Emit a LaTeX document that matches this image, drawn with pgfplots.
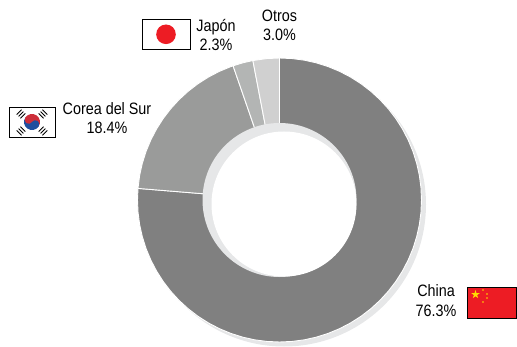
\documentclass[border=0pt]{standalone}
\usepackage{pgfplots}
\pgfplotsset{compat=1.18}
\usepackage{fontspec}
\setmainfont[FakeStretch=0.87]{Liberation Sans}
\usetikzlibrary{shapes.geometric}
\definecolor{cChina}{HTML}{808080}
\definecolor{cKorea}{HTML}{9A9B9A}
\definecolor{cJapan}{HTML}{B3B5B4}
\definecolor{cOtros}{HTML}{D0D0D0}
\definecolor{cShadow}{HTML}{E6E7E8}
\definecolor{fRed}{HTML}{ED1C24}
\definecolor{fYellow}{HTML}{FFDD00}
\definecolor{kBlue}{HTML}{1F4E9E}
\definecolor{kRed}{HTML}{CD2E3A}
\newcommand{\lab}[3]{\node[anchor=base,inner sep=0pt,text=black,font=\fontsize{16.5}{19}\selectfont] at (#1,#2) {#3};}
\newcommand{\tri}[3]{\begin{scope}[shift={(#1,#2)},rotate=#3]
\draw[black,line width=0.9pt] (-3.4,-2.6)--(3.4,-2.6);
\draw[black,line width=0.9pt] (-3.4,0)--(3.4,0);
\draw[black,line width=0.9pt] (-3.4,2.6)--(3.4,2.6);
\end{scope}}
\begin{document}
\begin{tikzpicture}
\path[use as bounding box,clip] (0,0) rectangle (517pt,346pt);
\begin{axis}[
  at={(0,0)},anchor=south west,
  width=517pt,height=346pt,scale only axis,hide axis,clip=false,
  xmin=-279.5,xmax=237.5,ymin=-146,ymax=200,
  data cs=polar,
  wedge/.style={line width=0.9pt,draw=white}]
% Shadow behind the ring
\begin{scope}[shift={(axis cs:-279.5,200)},x=1pt,y=-1pt]
\fill[cShadow] (284,204.5) circle[radius=142pt];
\end{scope}
% China 76.3 %
\addplot[wedge,fill=cChina] coordinates {(0,0)(90,142)(85,142)(80,142)(75,142)(70,142)(65,142)(60,142)(55,142)(50,142)(45,142)(40,142)(35,142)(30,142)(25,142)(20,142)(15,142)(10,142)(5,142)(0,142)(-5,142)(-10,142)(-15,142)(-20,142)(-25,142)(-30,142)(-35,142)(-40,142)(-45,142)(-50,142)(-55,142)(-60,142)(-65,142)(-70,142)(-75,142)(-80,142)(-85,142)(-90,142)(-95,142)(-100,142)(-105,142)(-110,142)(-115,142)(-120,142)(-125,142)(-130,142)(-135,142)(-140,142)(-145,142)(-150,142)(-155,142)(-160,142)(-165,142)(-170,142)(-175,142)(-180,142)(-184.68,142)(0,0)};
% Corea del Sur 18.4 %
\addplot[wedge,fill=cKorea] coordinates {(0,0)(175.32,142)(170,142)(165,142)(160,142)(155,142)(150,142)(145,142)(140,142)(135,142)(130,142)(125,142)(120,142)(115,142)(110,142)(109.08,142)(0,0)};
% Japon 2.3 %
\addplot[wedge,fill=cJapan] coordinates {(0,0)(109.08,142)(105,142)(100.8,142)(0,0)};
% Otros 3.0 %
\addplot[wedge,fill=cOtros] coordinates {(0,0)(100.8,142)(95,142)(90,142)(0,0)};
\begin{scope}[shift={(axis cs:-279.5,200)},x=1pt,y=-1pt]
\fill[cShadow] (279.5,200) circle[radius=77pt];
\fill[white] (284,204) circle[radius=72.5pt];
% labels
\lab{279.5}{22}{Otros}
\lab{279.5}{41}{3.0\%}
\lab{216}{32}{Japón}
\lab{216}{51}{2.3\%}
\lab{107}{115}{Corea del Sur}
\lab{107}{134}{18.4\%}
\lab{436}{296}{China}
\lab{436}{316}{76.3\%}
% Japan flag
\draw[black,line width=0.8pt,fill=white] (142.5,19.5) rectangle (190,49.5);
\fill[fRed] (166,34.3) circle[radius=9.8pt];
% Korea flag
\draw[black,line width=0.8pt,fill=white] (9.5,107.5) rectangle (55.5,137);
\begin{scope}[shift={(32,122)},rotate=-33.7]
\fill[kRed] (-8,0) arc[start angle=180,end angle=0,radius=8pt] -- cycle;
\fill[kBlue] (-8,0) arc[start angle=180,end angle=360,radius=8pt] -- cycle;
\fill[kRed] (-4,0) circle[radius=4pt];
\fill[kBlue] (4,0) circle[radius=4pt];
\end{scope}
\tri{21}{114}{45}
\tri{43}{114}{-45}
\tri{21}{131}{-45}
\tri{43}{131}{45}
% China flag
\draw[black,line width=1pt,fill=fRed] (467.5,287.5) rectangle (516.5,318.5);
\node[star,star points=5,star point ratio=2.6,fill=fYellow,inner sep=0pt,minimum size=9pt] at (475.5,294.5) {};
\fill[fYellow] (483,290) circle[radius=0.9pt];
\fill[fYellow] (487,294) circle[radius=0.9pt];
\fill[fYellow] (487,298) circle[radius=0.9pt];
\fill[fYellow] (483,302) circle[radius=0.9pt];
\end{scope}
\end{axis}
\end{tikzpicture}
\end{document}
